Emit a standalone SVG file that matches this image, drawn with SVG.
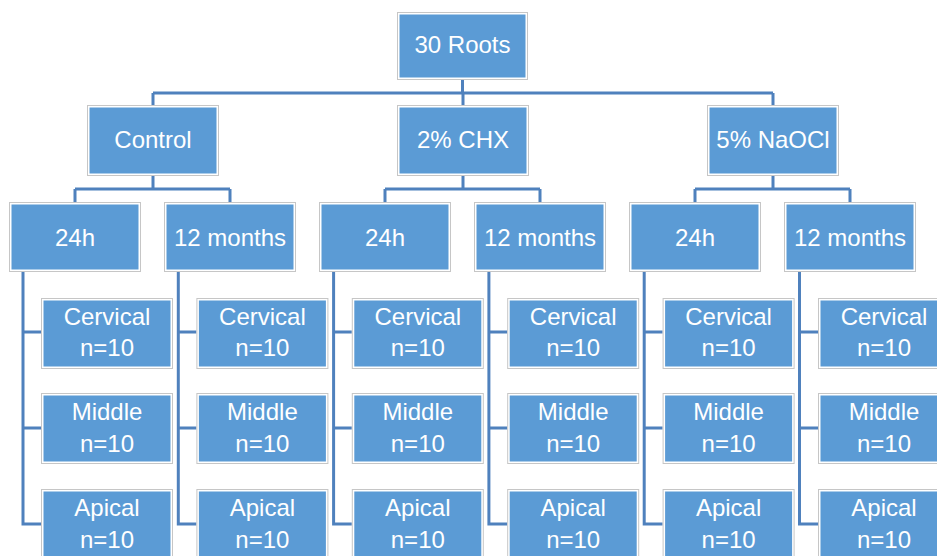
<svg xmlns="http://www.w3.org/2000/svg" width="937" height="556" viewBox="0 0 937 556">
<style>
.f{fill:#fff;stroke:#C6C6C6;stroke-width:1}
.b{fill:#5B9BD5}
.t{font-family:"Liberation Sans",Arial,sans-serif;font-size:24px;fill:#fff;text-anchor:middle}
.c path{fill:none;stroke:#4F81BD;stroke-width:3;stroke-linejoin:miter}
</style>
<rect width="937" height="556" fill="#fff"/>
<g class="c" id="connectors">
<path d="M462.5 80V93M153 93H773M153 93V105M463 93V105M773 93V105"/>
<path d="M153 176V189M75 189H230M75 189V202M230 189V202"/>
<path d="M463 176V189M385 189H540M385 189V202M540 189V202"/>
<path d="M773 176V189M695 189H850M695 189V202M850 189V202"/>
<path d="M23 272V524H41M23 332H41M23 428H41"/>
<path d="M178.3 272V524H196.4M178.3 332H196.4M178.3 428H196.4"/>
<path d="M333.6 272V524H351.8M333.6 332H351.8M333.6 428H351.8"/>
<path d="M488.9 272V524H507.2M488.9 332H507.2M488.9 428H507.2"/>
<path d="M644.2 272V524H662.6M644.2 332H662.6M644.2 428H662.6"/>
<path d="M799.5 272V524H818M799.5 332H818M799.5 428H818"/>
</g>
<g id="root"><rect class="f" x="397.5" y="12.5" width="130" height="67"/><rect class="b" x="399.5" y="14.5" width="126" height="63"/><text class="t" x="462.5" y="53">30 Roots</text></g>
<g id="control"><rect class="f" x="87.5" y="105.5" width="131" height="70"/><rect class="b" x="89.5" y="107.5" width="127" height="66"/><text class="t" x="153" y="148">Control</text></g>
<g id="chx"><rect class="f" x="397.5" y="105.5" width="131" height="70"/><rect class="b" x="399.5" y="107.5" width="127" height="66"/><text class="t" x="463" y="148">2% CHX</text></g>
<g id="naocl"><rect class="f" x="707.5" y="105.5" width="131" height="70"/><rect class="b" x="709.5" y="107.5" width="127" height="66"/><text class="t" x="773" y="148">5% NaOCl</text></g>
<g id="control-24h"><rect class="f" x="9.5" y="202.5" width="131" height="69"/><rect class="b" x="11.5" y="204.5" width="127" height="65"/><text class="t" x="75" y="246">24h</text></g>
<g id="control-12m"><rect class="f" x="164.5" y="202.5" width="131" height="69"/><rect class="b" x="166.5" y="204.5" width="127" height="65"/><text class="t" x="230" y="246">12 months</text></g>
<g id="chx-24h"><rect class="f" x="319.5" y="202.5" width="131" height="69"/><rect class="b" x="321.5" y="204.5" width="127" height="65"/><text class="t" x="385" y="246">24h</text></g>
<g id="chx-12m"><rect class="f" x="474.5" y="202.5" width="131" height="69"/><rect class="b" x="476.5" y="204.5" width="127" height="65"/><text class="t" x="540" y="246">12 months</text></g>
<g id="naocl-24h"><rect class="f" x="629.5" y="202.5" width="131" height="69"/><rect class="b" x="631.5" y="204.5" width="127" height="65"/><text class="t" x="695" y="246">24h</text></g>
<g id="naocl-12m"><rect class="f" x="784.5" y="202.5" width="131" height="69"/><rect class="b" x="786.5" y="204.5" width="127" height="65"/><text class="t" x="850" y="246">12 months</text></g>
<g id="c24-cervical"><rect class="f" x="41.5" y="298.5" width="131" height="70"/><rect class="b" x="43.5" y="300.5" width="127" height="66"/><text class="t" x="107" y="324.5">Cervical</text><text class="t" x="107" y="356">n=10</text></g>
<g id="c24-middle"><rect class="f" x="41.5" y="393.5" width="131" height="70"/><rect class="b" x="43.5" y="395.5" width="127" height="66"/><text class="t" x="107" y="420">Middle</text><text class="t" x="107" y="451.5">n=10</text></g>
<g id="c24-apical"><rect class="f" x="41.5" y="489.5" width="131" height="70"/><rect class="b" x="43.5" y="491.5" width="127" height="66"/><text class="t" x="107" y="516">Apical</text><text class="t" x="107" y="548">n=10</text></g>
<g id="c12-cervical"><rect class="f" x="196.9" y="298.5" width="131" height="70"/><rect class="b" x="198.9" y="300.5" width="127" height="66"/><text class="t" x="262.4" y="324.5">Cervical</text><text class="t" x="262.4" y="356">n=10</text></g>
<g id="c12-middle"><rect class="f" x="196.9" y="393.5" width="131" height="70"/><rect class="b" x="198.9" y="395.5" width="127" height="66"/><text class="t" x="262.4" y="420">Middle</text><text class="t" x="262.4" y="451.5">n=10</text></g>
<g id="c12-apical"><rect class="f" x="196.9" y="489.5" width="131" height="70"/><rect class="b" x="198.9" y="491.5" width="127" height="66"/><text class="t" x="262.4" y="516">Apical</text><text class="t" x="262.4" y="548">n=10</text></g>
<g id="x24-cervical"><rect class="f" x="352.3" y="298.5" width="131" height="70"/><rect class="b" x="354.3" y="300.5" width="127" height="66"/><text class="t" x="417.8" y="324.5">Cervical</text><text class="t" x="417.8" y="356">n=10</text></g>
<g id="x24-middle"><rect class="f" x="352.3" y="393.5" width="131" height="70"/><rect class="b" x="354.3" y="395.5" width="127" height="66"/><text class="t" x="417.8" y="420">Middle</text><text class="t" x="417.8" y="451.5">n=10</text></g>
<g id="x24-apical"><rect class="f" x="352.3" y="489.5" width="131" height="70"/><rect class="b" x="354.3" y="491.5" width="127" height="66"/><text class="t" x="417.8" y="516">Apical</text><text class="t" x="417.8" y="548">n=10</text></g>
<g id="x12-cervical"><rect class="f" x="507.7" y="298.5" width="131" height="70"/><rect class="b" x="509.7" y="300.5" width="127" height="66"/><text class="t" x="573.2" y="324.5">Cervical</text><text class="t" x="573.2" y="356">n=10</text></g>
<g id="x12-middle"><rect class="f" x="507.7" y="393.5" width="131" height="70"/><rect class="b" x="509.7" y="395.5" width="127" height="66"/><text class="t" x="573.2" y="420">Middle</text><text class="t" x="573.2" y="451.5">n=10</text></g>
<g id="x12-apical"><rect class="f" x="507.7" y="489.5" width="131" height="70"/><rect class="b" x="509.7" y="491.5" width="127" height="66"/><text class="t" x="573.2" y="516">Apical</text><text class="t" x="573.2" y="548">n=10</text></g>
<g id="n24-cervical"><rect class="f" x="663.1" y="298.5" width="131" height="70"/><rect class="b" x="665.1" y="300.5" width="127" height="66"/><text class="t" x="728.6" y="324.5">Cervical</text><text class="t" x="728.6" y="356">n=10</text></g>
<g id="n24-middle"><rect class="f" x="663.1" y="393.5" width="131" height="70"/><rect class="b" x="665.1" y="395.5" width="127" height="66"/><text class="t" x="728.6" y="420">Middle</text><text class="t" x="728.6" y="451.5">n=10</text></g>
<g id="n24-apical"><rect class="f" x="663.1" y="489.5" width="131" height="70"/><rect class="b" x="665.1" y="491.5" width="127" height="66"/><text class="t" x="728.6" y="516">Apical</text><text class="t" x="728.6" y="548">n=10</text></g>
<g id="n12-cervical"><rect class="f" x="818.5" y="298.5" width="131" height="70"/><rect class="b" x="820.5" y="300.5" width="127" height="66"/><text class="t" x="884" y="324.5">Cervical</text><text class="t" x="884" y="356">n=10</text></g>
<g id="n12-middle"><rect class="f" x="818.5" y="393.5" width="131" height="70"/><rect class="b" x="820.5" y="395.5" width="127" height="66"/><text class="t" x="884" y="420">Middle</text><text class="t" x="884" y="451.5">n=10</text></g>
<g id="n12-apical"><rect class="f" x="818.5" y="489.5" width="131" height="70"/><rect class="b" x="820.5" y="491.5" width="127" height="66"/><text class="t" x="884" y="516">Apical</text><text class="t" x="884" y="548">n=10</text></g>
</svg>
